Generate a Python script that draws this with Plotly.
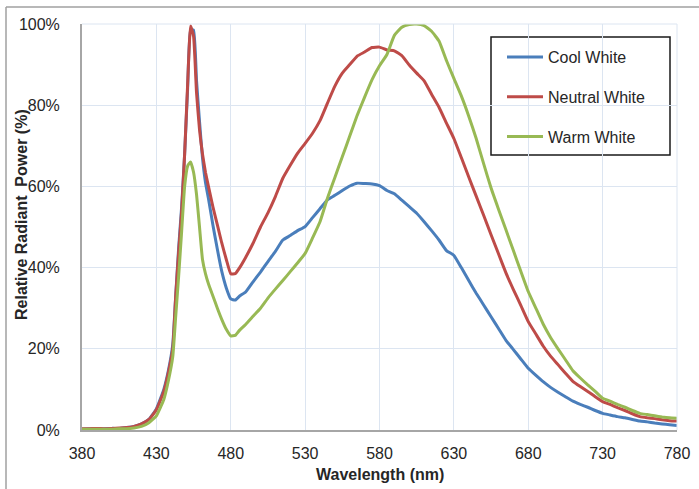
import plotly.graph_objects as go

wavelength = [380, 385, 390, 395, 400, 405, 410, 415, 420, 425, 430, 435, 438,
              441, 443, 445, 447, 449, 451, 453, 455, 457, 459, 461, 463, 465,
              468, 471, 474, 477, 480, 483, 486, 490, 495,
              500, 505, 510, 515, 520, 525, 530, 535, 540, 545, 550, 555, 560,
              565, 570, 575, 580, 585, 590, 595, 600, 605, 610, 615, 620, 625,
              630, 635, 640, 645, 650, 655, 660, 665, 670, 675, 680, 685, 690,
              695, 700, 705, 710, 715, 720, 725, 730, 735, 740, 745, 750, 755,
              760, 765, 770, 775, 780]

cool_white = [0.2, 0.3, 0.3, 0.3, 0.4, 0.4, 0.6, 0.9, 1.5, 2.6, 5.2, 10, 14.5,
              21, 33, 45, 55, 68, 84, 98.5, 98.5, 86, 76, 67, 61, 57,
              50.5, 44.5, 39, 35, 32.3, 32, 33, 34, 36.5,
              38.9, 41.5, 44, 46.8, 47.9, 49.1, 50.1, 52.3, 54.5, 56.7, 57.8, 59, 60.1,
              60.8, 60.7, 60.6, 60.2, 59, 58.2, 56.6, 55, 53.4, 51.3, 49.1, 46.8, 44.2,
              43, 40, 36.8, 33.7, 30.8, 27.9, 25, 22.1, 19.8, 17.5, 15.2, 13.5, 11.9,
              10.5, 9.3, 8.2, 7.1, 6.3, 5.6, 4.8, 4.1, 3.7, 3.3, 3.0, 2.6, 2.2,
              2.0, 1.7, 1.5, 1.3, 1.1]

neutral_white = [0.3, 0.3, 0.4, 0.3, 0.4, 0.5, 0.6, 0.9, 1.5, 2.6, 5.0, 9.5, 14,
                 20, 33, 44, 54, 68, 85, 99.5, 97, 83, 74, 68, 63.5, 60,
                 55, 50.5, 46, 42, 38.5, 38.5, 40, 42.5, 46,
                 50, 53.5, 57.5, 62, 65.2, 68.2, 70.6, 73.1, 76.2, 80.5, 84.7, 87.9, 90,
                 92.1, 93.1, 94.2, 94.3, 93.6, 93.4, 92.2, 89.9, 87.9, 86, 82.7, 79.5, 75.6,
                 71.8, 67.1, 62.3, 57.6, 52.9, 48.1, 43.4, 38.7, 34.6, 30.7, 26.7, 23.7, 20.7,
                 18.2, 16.1, 14, 12, 10.7, 9.5, 8.2, 7, 6.3, 5.5, 4.8, 4.0, 3.3,
                 3.0, 2.8, 2.5, 2.3, 2.2]

warm_white = [0.2, 0.2, 0.2, 0.2, 0.2, 0.3, 0.3, 0.5, 0.9, 1.8, 3.5, 7.5, 12,
              18, 28, 38, 49, 60, 65, 66, 63.5, 58, 50, 42, 38.5, 36,
              33, 30, 27.2, 24.8, 23.2, 23.3, 24.6, 26, 28,
              30, 32.5, 34.7, 36.8, 39, 41.2, 43.5, 47.3, 51.3, 57.1, 62.2, 67.3, 72.4,
              77.5, 82, 86.3, 89.7, 92.5, 97.2, 99.2, 99.9, 100, 99.6, 98.2, 95.8, 91,
              86.6, 82.3, 77.3, 71.8, 65.6, 59.6, 54.4, 49.3, 44.2, 39.1, 34.1, 30.1, 26.1,
              22.8, 20, 17.3, 14.6, 12.8, 11.1, 9.5, 7.8, 7.1, 6.3, 5.6, 4.8, 4.1,
              3.8, 3.5, 3.2, 3.0, 2.9]

x_ticks = [380, 430, 480, 530, 580, 630, 680, 730, 780]
y_ticks = [0, 20, 40, 60, 80, 100]
y_tick_labels = ["0%", "20%", "40%", "60%", "80%", "100%"]

x_title = "Wavelength (nm)"
y_title = "Relative Radiant  Power (%)"

series = [
    ("Cool White", cool_white, "#4A7EBB"),
    ("Neutral White", neutral_white, "#BE4B48"),
    ("Warm White", warm_white, "#98B954"),
]

FONT = "Liberation Sans, Arial, sans-serif"
TXT = "#262626"

fig = go.Figure()
for i, (name, vals, color) in enumerate(series):
    fig.add_trace(go.Scatter(
        x=wavelength, y=vals, name=name, mode="lines",
        line=dict(color=color, width=3, shape="spline", smoothing=0.4),
        legendgroup=f"g{i}",
    ))

W, H = 699, 489
L, R, T, B = 82, 22, 24, 59
pw, ph = W - L - R, H - T - B

def px(xp):
    return (xp - L) / pw

def py(yp):
    return (H - B - yp) / ph

fig.update_layout(
    width=W, height=H,
    margin=dict(l=L, r=R, t=T, b=B, pad=0, autoexpand=False),
    paper_bgcolor="white", plot_bgcolor="white",
    font=dict(family=FONT, size=16, color=TXT),
    showlegend=True,
    legend=dict(
        x=px(502), y=py(40), xanchor="left", yanchor="top",
        bgcolor="rgba(0,0,0,0)", borderwidth=0,
        font=dict(family=FONT, size=16, color=TXT),
        traceorder="grouped", tracegroupgap=16, itemwidth=36,
    ),
    xaxis=dict(
        range=[380, 780], tickmode="array", tickvals=x_ticks,
        showgrid=True, gridcolor="#DCE5F1", gridwidth=1,
        showline=True, linecolor="#A6A6A6", linewidth=2,
        zeroline=False, ticks="", ticklabelstandoff=8, automargin=False,
        tickfont=dict(family=FONT, size=16, color=TXT),
    ),
    yaxis=dict(
        range=[0, 100], tickmode="array", tickvals=y_ticks, ticktext=y_tick_labels,
        showgrid=True, gridcolor="#DCE5F1", gridwidth=1,
        showline=True, linecolor="#A6A6A6", linewidth=2,
        zeroline=False, ticks="", ticklabelstandoff=17, automargin=False,
        tickfont=dict(family=FONT, size=16, color=TXT),
    ),
    annotations=[
        dict(text=f"<b>{x_title}</b>", xref="paper", yref="paper",
             x=px(380), y=py(474), xanchor="center", yanchor="middle",
             showarrow=False, font=dict(family=FONT, size=16, color=TXT)),
        dict(text=f"<b>{y_title}</b>", xref="paper", yref="paper",
             x=px(21), y=py(215), xanchor="center", yanchor="middle", textangle=-90,
             showarrow=False, font=dict(family=FONT, size=16, color=TXT)),
    ],
    shapes=[
        dict(type="line", xref="paper", yref="paper", x0=1, x1=1, y0=0, y1=1,
             line=dict(color="#DCE5F1", width=1)),
        dict(type="line", xref="paper", yref="paper", x0=0, x1=1, y0=1, y1=1,
             line=dict(color="#DCE5F1", width=1)),
        dict(type="line", xref="paper", yref="paper", x0=px(6), x1=px(702), y0=py(7), y1=py(7),
             line=dict(color="#A0A0A0", width=1.5)),
        dict(type="line", xref="paper", yref="paper", x0=px(6), x1=px(6), y0=py(7), y1=py(492),
             line=dict(color="#A0A0A0", width=1.5)),
        dict(type="rect", xref="paper", yref="paper", x0=px(491), x1=px(670), y0=py(155), y1=py(37),
             line=dict(color="#1A1A1A", width=1.5), fillcolor="white", layer="below"),
    ],
)

fig.write_html("out.html")
